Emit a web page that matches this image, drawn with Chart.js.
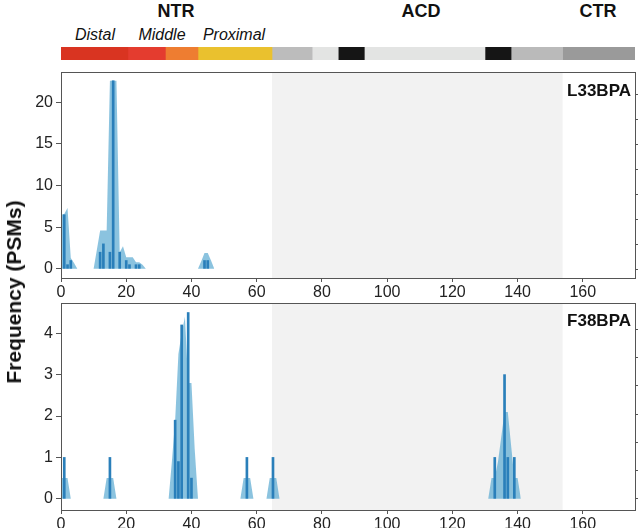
<!DOCTYPE html>
<html>
<head>
<meta charset="utf-8">
<script src="https://cdn.jsdelivr.net/npm/chart.js@4/dist/chart.umd.min.js"></script>
<style>
  body { margin: 0; background: #fff; font-family: 'Liberation Sans', Arial, sans-serif; }
  #page { position: relative; width: 638px; height: 528px; overflow: hidden; }
  canvas { position: absolute; left: 0; }
  .lbl { position: absolute; color: #111; white-space: nowrap; transform: translate(-50%, -50%); }
  .region { font-weight: bold; font-size: 18px; top: 11px; }
  .sub { font-style: italic; font-size: 16px; top: 35px; }
  .panel { position: absolute; right: 7px; font-weight: bold; font-size: 17px; color: #111; }
  #ylabel { position: absolute; left: 14px; top: 292px; font-weight: bold; font-size: 21px; color: #111;
    white-space: nowrap; transform: translate(-50%, -50%) rotate(-90deg); }
</style>
</head>
<body>
<div id="page">
  <div class="lbl region" style="left:176px">NTR</div>
  <div class="lbl region" style="left:421px">ACD</div>
  <div class="lbl region" style="left:598px">CTR</div>
  <div class="lbl sub" style="left:95px">Distal</div>
  <div class="lbl sub" style="left:162px">Middle</div>
  <div class="lbl sub" style="left:234px">Proximal</div>

  <canvas id="domains" width="638" height="13" style="top:47px"></canvas>
  <canvas id="top" width="638" height="236" style="top:64px"></canvas>
  <canvas id="bottom" width="638" height="228" style="top:300px"></canvas>

  <div class="panel" style="top:81px">L33BPA</div>
  <div class="panel" style="top:311px">F38BPA</div>
  <div id="ylabel">Frequency (PSMs)</div>
</div>

<script>
// residue range and ACD shading
const X_MAX = 176
const acdStart = 64.7
const acdEnd = 153.8

// tick labels
const xTicks = [0, 20, 40, 60, 80, 100, 120, 140, 160]
const topYTicks = [0, 5, 10, 15, 20]
const botYTicks = [0, 1, 2, 3, 4]
const topRightTicks = [0, 1, 2, 3, 4, 5, 6, 7]
const botRightTicks = [0, 1, 2, 3, 4, 5, 6]

// domain bar (residue boundaries)
const domainStarts = [0, 20.5, 32, 42, 64.7, 77, 85, 93, 130, 138, 153.8]
const domainEnds = [20.5, 32, 42, 64.7, 77, 85, 93, 130, 138, 153.8, 176]
const domainColors = ['#d93421', '#e43c2f', '#ee7d31', '#eac12e', '#bcbcbc', '#e3e4e3',
  '#151515', '#e3e4e3', '#151515', '#bababa', '#9a9a9a']

// L33BPA
const topBarPos = [1, 2, 3, 12, 13, 15, 16, 18, 20, 21, 23, 24, 44, 45]
const topBarVal = [6.5, 0.5, 1, 2, 3, 2, 22.6, 2, 1, 0.5, 0.5, 0.5, 1, 1]
const topAreaPos = [0, 1, 2, 3, 4, 5, 10, 11, 12, 13, 14, 15, 16, 17, 18, 19, 20, 21, 22, 23, 24, 25, 26, 42, 43, 44, 45, 46, 47]
const topAreaVal = [6.5, 6.6, 7.3, 1.3, 0.7, 0, 0, 2.3, 4.6, 4.6, 4.6, 22.6, 22.6, 22.6, 2.0, 2.7, 1.4, 1.4, 1.4, 0.8, 0.8, 0.5, 0, 0, 0.9, 1.9, 1.9, 1.0, 0]

// F38BPA
const botBarPos = [1, 15, 35, 36, 37, 39, 40, 57, 65, 133, 136, 137, 139]
const botBarVal = [1, 1, 1.9, 0.9, 4.2, 4.5, 0.5, 1, 1, 1, 3, 1, 1]
const botAreaPos = [0, 1, 2, 3, 13, 14, 15, 16, 17, 33, 34, 35, 36, 37, 38, 39, 40, 41, 42, 55, 56, 57, 58, 59,
  63, 64, 65, 66, 67, 131, 132, 133, 134, 135, 136, 137, 138, 139, 140, 141]
const botAreaVal = [0.5, 0.5, 0.5, 0, 0, 0.5, 0.5, 0.5, 0, 0, 0.9, 1.9, 3.5, 4.0, 4.4, 2.8, 2.8, 1.2, 0, 0, 0.5, 0.5, 0.5, 0,
  0, 0.5, 0.5, 0.5, 0, 0, 0.5, 0.5, 0.9, 1.5, 2.1, 2.1, 1.3, 0.5, 0.5, 0]

Chart.defaults.font.family = "'Liberation Sans', Arial, sans-serif"
Chart.defaults.font.size = 16
Chart.defaults.color = '#222'
Chart.defaults.animation = false
Chart.defaults.plugins.legend.display = false
Chart.defaults.plugins.tooltip.enabled = false

const axisColor = '#555'

// grey band behind the ACD
const shadePlugin = {
  id: 'shade',
  beforeDatasetsDraw(chart) {
    const { ctx, chartArea, scales } = chart
    const x0 = scales.x.getPixelForValue(acdStart)
    const x1 = scales.x.getPixelForValue(acdEnd)
    ctx.save()
    ctx.fillStyle = '#f2f2f2'
    ctx.fillRect(x0, chartArea.top, x1 - x0, chartArea.bottom - chartArea.top)
    ctx.restore()
  },
}

// box round the plot area
const framePlugin = {
  id: 'frame',
  afterDraw(chart) {
    const { ctx, chartArea } = chart
    ctx.save()
    ctx.strokeStyle = axisColor
    ctx.lineWidth = 1
    ctx.strokeRect(Math.round(chartArea.left) + 0.5, Math.round(chartArea.top) + 0.5,
      Math.round(chartArea.right - chartArea.left), Math.round(chartArea.bottom - chartArea.top))
    ctx.restore()
  },
}

function points(xs, ys) {
  return xs.map((x, i) => ({ x, y: ys[i] }))
}

function fixedTicks(values) {
  return scale => {
    scale.ticks = values.map(value => ({ value }))
  }
}

// fixed axis size, no extra room for half tick labels
function fixSize(prop, size) {
  return s => {
    s[prop] = size
    s.paddingTop = 0
    s.paddingBottom = 0
    s.paddingLeft = 0
    s.paddingRight = 0
  }
}

function drawPanel(id, opts) {
  new Chart(document.getElementById(id), {
    type: 'bar',
    data: {
      datasets: [
        {
          type: 'bar',
          data: points(opts.barPos, opts.barVal),
          backgroundColor: '#2a7fba',
          barThickness: 2,
          order: 0,
        },
        {
          type: 'line',
          data: points(opts.areaPos, opts.areaVal),
          fill: 'origin',
          backgroundColor: 'rgba(90,170,210,0.7)',
          borderColor: 'rgba(0,0,0,0)',
          borderWidth: 0,
          pointRadius: 0,
          tension: 0,
          order: 1,
        },
      ],
    },
    options: {
      responsive: false,
      devicePixelRatio: 1,
      layout: { padding: { top: opts.padTop, left: 0, right: 0, bottom: 0 } },
      scales: {
        x: {
          type: 'linear',
          offset: false,
          min: 0,
          max: X_MAX,
          afterBuildTicks: fixedTicks(xTicks),
          ticks: { maxRotation: 0, padding: 1 },
          grid: { drawOnChartArea: false, tickLength: 4, color: axisColor, offset: false },
          border: { color: axisColor },
          afterFit: fixSize('height', opts.xHeight),
        },
        y: {
          min: opts.yMin,
          max: opts.yMax,
          afterBuildTicks: fixedTicks(opts.yTicks),
          ticks: { padding: 3 },
          grid: { drawOnChartArea: false, tickLength: 5, color: axisColor },
          border: { color: axisColor },
          afterFit: fixSize('width', 61),
        },
        y2: {
          position: 'right',
          min: opts.y2Min,
          max: opts.y2Max,
          afterBuildTicks: fixedTicks(opts.y2Ticks),
          ticks: { display: false },
          grid: { drawOnChartArea: false, tickLength: 3, color: axisColor },
          border: { color: axisColor },
          afterFit: fixSize('width', 3),
        },
      },
    },
    plugins: [shadePlugin, framePlugin],
  })
}

new Chart(document.getElementById('domains'), {
  type: 'bar',
  data: {
    labels: ['domains'],
    datasets: domainStarts.map((s, i) => ({
      data: [[s, domainEnds[i]]],
      backgroundColor: domainColors[i],
      grouped: false,
      barPercentage: 1,
      categoryPercentage: 1,
    })),
  },
  options: {
    indexAxis: 'y',
    responsive: false,
    devicePixelRatio: 1,
    layout: { padding: { left: 61, right: 3, top: 0, bottom: 0 } },
    scales: {
      x: { type: 'linear', display: false, min: 0, max: X_MAX },
      y: { display: false },
    },
  },
})

drawPanel('top', {
  barPos: topBarPos, barVal: topBarVal, areaPos: topAreaPos, areaVal: topAreaVal,
  padTop: 8, xHeight: 22, yMin: -1.1, yMax: 23.65, yTicks: topYTicks,
  y2Min: -0.34, y2Max: 7.88, y2Ticks: topRightTicks,
})

drawPanel('bottom', {
  barPos: botBarPos, barVal: botBarVal, areaPos: botAreaPos, areaVal: botAreaVal,
  padTop: 3, xHeight: 18, yMin: -0.27, yMax: 4.73, yTicks: botYTicks,
  y2Min: -0.39, y2Max: 6.93, y2Ticks: botRightTicks,
})
</script>
</body>
</html>
